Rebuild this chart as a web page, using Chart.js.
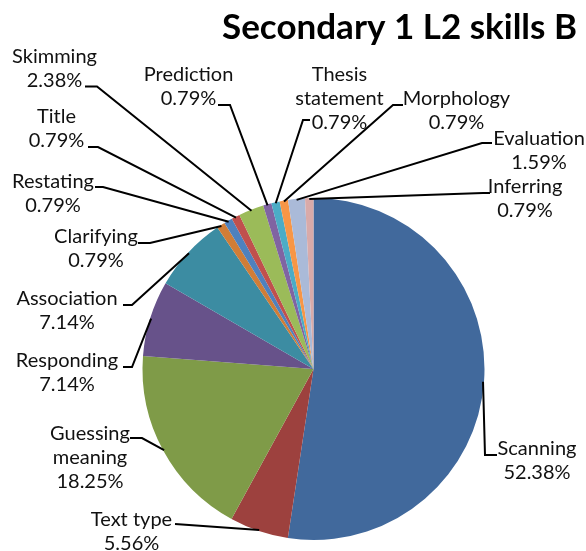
<!DOCTYPE html>
<html>
<head>
<meta charset="utf-8">
<script src="https://cdn.jsdelivr.net/npm/chart.js@4/dist/chart.umd.min.js"></script>
<style>
  html, body { margin: 0; padding: 0; background: #fff; }
  #wrap { width: 586px; height: 551px; position: relative; }
</style>
</head>
<body>
<div id="wrap"><canvas id="c" width="586" height="551"></canvas></div>
<script>
// ---- data ----
const chartTitle = 'Secondary 1 L2 skills B';
const categories = ['Scanning', 'Text type', 'Guessing meaning', 'Responding', 'Association',
  'Clarifying', 'Restating', 'Title', 'Skimming', 'Prediction', 'Thesis statement',
  'Morphology', 'Evaluation', 'Inferring'];
const percentages = [52.38, 5.56, 18.25, 7.14, 7.14, 0.79, 0.79, 0.79, 2.38, 0.79, 0.79, 0.79, 1.59, 0.79];
const sliceColors = ['#41699C', '#9D413E', '#7F9B48', '#67528A', '#3C8CA2', '#D07D37',
  '#4F81BD', '#C0504D', '#9BBB59', '#8064A2', '#4BACC6', '#F79646', '#AABAD8', '#D9AAA9'];

// ---- label layout (positions of data labels and their leader lines) ----
// cx: text centre, y: first baseline, lines: category wrapping, elbow/end: leader line points
const labelLayout = [
  { lines: ['Scanning'], cx: 537, y: 455, elbow: [485, 455], end: [497, 455] },
  { lines: ['Text type'], cx: 131.5, y: 526, elbow: [175, 524], end: [175, 524] },
  { lines: ['Guessing', 'meaning'], cx: 90, y: 440, elbow: [142, 438], end: [130, 438] },
  { lines: ['Responding'], cx: 67, y: 367, elbow: [132, 367], end: [123, 367] },
  { lines: ['Association'], cx: 67, y: 305, elbow: [132, 305], end: [123, 305] },
  { lines: ['Clarifying'], cx: 96, y: 243, elbow: [150, 243], end: [138, 243] },
  { lines: ['Restating'], cx: 53, y: 188, elbow: [103, 187], end: [95, 187] },
  { lines: ['Title'], cx: 56.5, y: 123, elbow: [98, 147], end: [88, 147] },
  { lines: ['Skimming'], cx: 54.5, y: 62.5, elbow: [97, 86.5], end: [85, 86.5] },
  { lines: ['Prediction'], cx: 188.5, y: 81, elbow: [230, 105], end: [218, 105] },
  { lines: ['Thesis', 'statement'], cx: 339.5, y: 81, elbow: [303, 120], end: [310, 120] },
  { lines: ['Morphology'], cx: 456.5, y: 105, elbow: [393, 105], end: [403, 105] },
  { lines: ['Evaluation'], cx: 539, y: 145, elbow: [482, 143], end: [492, 143] },
  { lines: ['Inferring'], cx: 525, y: 193, elbow: [483, 193], end: [490, 193] }
];

const labelPlugin = {
  id: 'excelLabels',
  afterDraw(chart) {
    const ctx = chart.ctx;
    const meta = chart.getDatasetMeta(0);
    ctx.save();
    // leader lines
    ctx.strokeStyle = '#000';
    ctx.lineWidth = 2;
    ctx.lineJoin = 'miter';
    meta.data.forEach((arc, i) => {
      const L = labelLayout[i];
      const p = arc.getProps(['x', 'y', 'startAngle', 'endAngle', 'outerRadius'], true);
      const mid = (p.startAngle + p.endAngle) / 2;
      const ex = p.x + Math.cos(mid) * (p.outerRadius - 1);
      const ey = p.y + Math.sin(mid) * (p.outerRadius - 1);
      ctx.beginPath();
      ctx.moveTo(ex, ey);
      ctx.lineTo(L.elbow[0], L.elbow[1]);
      ctx.lineTo(L.end[0], L.end[1]);
      ctx.stroke();
    });
    // label text
    ctx.fillStyle = '#111';
    ctx.font = '20px Lato';
    ctx.textAlign = 'center';
    ctx.textBaseline = 'alphabetic';
    const lh = 24;
    meta.data.forEach((arc, i) => {
      const L = labelLayout[i];
      const lines = L.lines.concat([percentages[i].toFixed(2) + '%']);
      lines.forEach((t, k) => ctx.fillText(t, L.cx, L.y + k * lh));
    });
    // title
    ctx.fillStyle = '#000';
    ctx.font = 'bold 35px Lato';
    ctx.textAlign = 'right';
    ctx.fillText(chartTitle, 577, 38.5);
    ctx.restore();
  }
};

new Chart(document.getElementById('c'), {
  type: 'pie',
  data: {
    labels: categories,
    datasets: [{
      data: percentages,
      backgroundColor: sliceColors,
      borderWidth: 0,
      hoverOffset: 0,
      offset: 0
    }]
  },
  options: {
    responsive: false,
    animation: false,
    devicePixelRatio: 1,
    events: [],
    layout: { padding: { left: 142.5, right: 101.5, top: 198, bottom: 11 } },
    plugins: {
      legend: { display: false },
      tooltip: { enabled: false },
      title: { display: false }
    }
  },
  plugins: [labelPlugin]
});
</script>
</body>
</html>
